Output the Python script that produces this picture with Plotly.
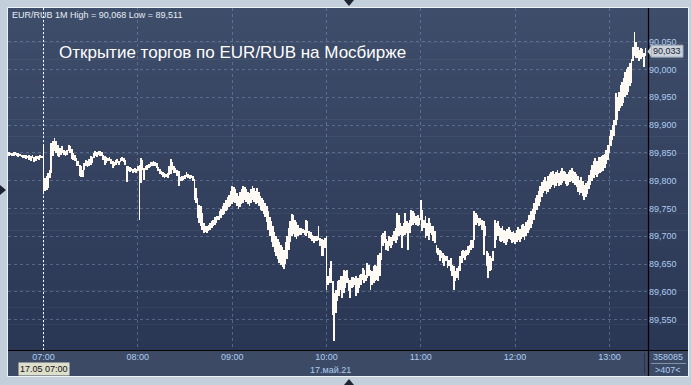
import pandas as pd
import plotly.graph_objects as go

# ---------------- data (1-minute bars, EUR/RUB, 17.05.2021) ----------------
# prices stored as thousandths above 89.000  (e.g. 845 -> 89.845)
BASE = 89.0
first_bar = "2021-05-17 06:38"

low_0638 = [845,846,844,845,846,845,843,844,842,840,841,839,840,838,836,840,834,835,839,838,841,840]
high_0638 = [851,850,849,851,852,850,849,848,847,846,847,846,845,846,845,846,843,844,845,844,846,845]

low_07 = [778,781,784,787,805,814,844,853,850,844, 842,847,850,846,844,847,853,850,839,838,
          835,826,826,808,806,806,820,826,824,827, 829,832,841,844,843,847,845,844,838,829,
          832,835,835,830,823,826,829,832,829,833, 835,833,829,797,817,815,817,814,815,814]
high_07 = [866,805,808,814,820,868,871,876,871,865, 859,859,863,856,854,856,865,862,857,850,
           847,841,835,829,826,820,832,838,835,839, 844,843,850,853,851,854,853,851,847,844,
           843,841,842,839,835,833,838,839,836,841, 842,841,838,826,826,824,823,821,823,821]

low_08 = [817,730,796,820,802,820,820,823,824,826, 827,826,823,817,812,811,807,805,806,805,
          811,812,820,814,814,808,790,799,800,802, 803,806,805,803,805,800,766,760,733,724,
          719,712,706,707,706,710,712,715,719,721, 724,730,730,733,738,740,745,748,752,755]
high_08 = [826,829,841,838,823,826,829,830,833,833, 835,834,832,824,821,818,815,814,812,814,
           826,839,833,826,823,820,817,806,808,809, 811,815,812,810,811,808,803,787,769,757,
           754,742,724,719,718,721,724,727,730,735, 737,736,745,750,755,760,765,770,775,782]

low_09 = [758,762,760,755,750,752,758,760,765,762, 758,755,760,765,762,758,760,755,748,745,
          740,735,725,712,700,690,680,672,665,660, 652,648,645,642,650,660,675,690,700,705,
          698,695,700,703,703,706,703,700,706,697, 695,691,688,691,691,694,682,664,664,679]
high_09 = [790,788,785,778,772,780,785,790,788,785, 780,778,785,790,786,782,787,780,772,768,
           765,760,755,745,735,728,718,708,700,695, 690,685,680,675,690,700,715,728,740,738,
           730,725,720,715,715,713,712,729,727,709, 707,703,700,701,700,719,697,695,694,697]

low_10 = [604,613,616,616,559,511,562,583,592,604, 589,598,607,616,601,589,607,609,613,592,
          598,607,613,622,616,619,625,628,604,613, 616,619,622,619,628,658,682,688,676,673,
          682,679,685,691,688,694,700,703,679,700, 703,706,676,706,718,721,724,721,718,721]
high_10 = [701,628,643,655,619,598,604,619,622,629, 628,640,637,639,625,622,627,627,625,628,
           625,631,633,643,640,631,652,649,640,637, 646,649,646,667,670,703,706,709,695,691,
           700,699,703,709,715,742,739,724,718,724, 742,727,724,730,748,745,742,736,739,733]

low_11 = [730,709,715,697,700,694,706,703,691,688, 670,667,655,661,652,646,655,643,646,637,
          628,604,619,625,622,637,652,661,658,664, 667,670,676,679,694,721,724,718,721,712,
          667,700,646,625,637,640,655,679,694,700, 691,690,692,688,685,690,695,693,688,690]
high_11 = [766,748,730,736,724,733,724,718,718,709, 685,679,676,673,670,667,665,664,658,661,
           649,646,637,643,646,664,673,676,673,676, 682,685,694,694,745,742,739,733,733,730,
           727,718,673,670,664,661,673,730,724,727, 718,715,718,712,710,713,716,712,708,710]

low_12 = [686,690,694,690,695,698,694,700,706,712, 715,722,730,740,748,755,762,770,778,782,
          776,780,785,788,792,786,790,795,790,792, 796,800,794,790,793,797,800,795,792,788,
          780,775,778,772,766,770,776,785,792,800, 805,810,806,812,814,816,818,822,830,838]
high_12 = [706,712,716,714,720,722,718,726,730,738, 745,750,760,768,775,782,790,798,802,806,
           800,808,812,815,818,812,815,820,814,818, 822,818,815,812,816,820,822,818,815,812,
           808,802,806,800,792,795,800,810,820,828, 835,840,836,842,843,845,846,848,856,865]

low_13 = [850,862,874,880,900,910,925,930,935,940, 950,955,960,970,975,1015,1025,1020,1020,1015,
          1018,1022,1005,1025]
high_13 = [880,892,900,910,958,950,960,972,978,985, 995,1000,1005,1012,1018,1040,1068,1050,1040,1035,
           1038,1036,1030,1038]

last_price = 90.033
y_ticks = [89.55, 89.60, 89.65, 89.70, 89.75, 89.80, 89.85, 89.90, 89.95, 90.00, 90.05]
x_ticks = ["07:00", "08:00", "09:00", "10:00", "11:00", "12:00", "13:00"]
day = "2021-05-17"

# ---------------- assemble ----------------
lows_raw = low_0638 + low_07 + low_08 + low_09 + low_10 + low_11 + low_12 + low_13
highs_raw = high_0638 + high_07 + high_08 + high_09 + high_10 + high_11 + high_12 + high_13
lows = [BASE + v / 1000 for v in lows_raw]
highs = [BASE + v / 1000 for v in highs_raw]
times = pd.date_range(first_bar, periods=len(lows), freq="1min")

# ---------------- geometry helpers (pixel -> paper) ----------------
W, H = 691, 385
PL, PR, PT, PB = 8, 648, 8, 350
def px(x):
    return (x - PL) / (PR - PL)
def py(y):
    return (PB - y) / (PB - PT)

FONT = "Liberation Sans, Arial, sans-serif"
LABEL = "#aecdf2"
GRID = "rgba(125,145,180,0.5)"

fig = go.Figure()
fig.add_trace(go.Bar(
    x=times, y=[h - l for h, l in zip(highs, lows)], base=lows,
    width=30000, marker=dict(color="#fffaf3", line=dict(width=0)),
    hoverinfo="skip", showlegend=False,
))

shapes = []
# frame light border
shapes.append(dict(type="rect", xref="paper", yref="paper", x0=px(7.5), x1=px(688.5), y0=py(376.5), y1=py(7.5),
                   line=dict(color="#eef3f8", width=1), fillcolor="rgba(0,0,0,0)", layer="below"))
# gradient background of plot + right panel
top_c = (62, 77, 106)
bot_c = (42, 55, 84)
N = 40
for i in range(N):
    t = i / (N - 1)
    c = tuple(round(top_c[k] + (bot_c[k] - top_c[k]) * t) for k in range(3))
    ya = PT + (PB - PT) * i / N
    yb = PT + (PB - PT) * (i + 1) / N
    shapes.append(dict(type="rect", xref="paper", yref="paper", x0=px(8), x1=px(688),
                       y0=py(yb + 0.5), y1=py(ya), line=dict(width=0),
                       fillcolor="rgb(%d,%d,%d)" % c, layer="below"))
# bottom time panel
shapes.append(dict(type="rect", xref="paper", yref="paper", x0=px(8), x1=px(688), y0=py(376), y1=py(350),
                   line=dict(width=0), fillcolor="#3c4a65", layer="below"))
# black separators
shapes.append(dict(type="line", xref="paper", yref="paper", x0=px(648.5), x1=px(648.5), y0=py(376), y1=py(8),
                   line=dict(color="#000000", width=1.2), layer="above"))
shapes.append(dict(type="line", xref="paper", yref="paper", x0=px(8), x1=px(688), y0=py(350.5), y1=py(350.5),
                   line=dict(color="#000000", width=1.2), layer="above"))
shapes.append(dict(type="line", xref="paper", yref="paper", x0=px(644.5), x1=px(644.5), y0=py(374), y1=py(353),
                   line=dict(color="#27314a", width=1), layer="above"))
shapes.append(dict(type="line", xref="paper", yref="paper", x0=px(651), x1=px(686), y0=py(363.5), y1=py(363.5),
                   line=dict(color="#8192ac", width=1), layer="above"))
# cursor line at 07:00
shapes.append(dict(type="line", xref="x", yref="paper", x0=f"{day} 07:00", x1=f"{day} 07:00", y0=0, y1=1,
                   line=dict(color="#ffffff", width=1, dash="2px,2px"), layer="above"))
# last price marker
shapes.append(dict(type="rect", xref="paper", yref="y", x0=px(651), x1=px(683),
                   y0=last_price - 6 / 556, y1=last_price + 6 / 556,
                   line=dict(color="#9aa6b4", width=1), fillcolor="#c9d1da", layer="above"))
shapes.append(dict(type="path", xref="paper", yref="paper",
                   path=f"M {px(651)} {py(46.5)} L {px(647.5)} {py(51.5)} L {px(651)} {py(56.5)} Z",
                   line=dict(width=0), fillcolor="#c9d1da", layer="above"))
# small pointer triangles on the frame
shapes.append(dict(type="path", xref="paper", yref="paper",
                   path=f"M {px(344)} {py(0)} L {px(354)} {py(0)} L {px(349)} {py(6)} Z",
                   line=dict(width=0), fillcolor="#1e2530", layer="above"))
shapes.append(dict(type="path", xref="paper", yref="paper",
                   path=f"M {px(344)} {py(385)} L {px(354)} {py(385)} L {px(349)} {py(379)} Z",
                   line=dict(width=0), fillcolor="#1e2530", layer="above"))
shapes.append(dict(type="path", xref="paper", yref="paper",
                   path=f"M {px(0)} {py(185)} L {px(0)} {py(195)} L {px(6)} {py(190)} Z",
                   line=dict(width=0), fillcolor="#1e2530", layer="above"))

annotations = [
    dict(text="EUR/RUB 1M High = 90,068 Low = 89,511", x=px(10), y=py(15), xanchor="left", yanchor="middle",
         font=dict(family=FONT, size=9, color="#e6edf5")),
    dict(text="Открытие торгов по EUR/RUB на Мосбирже", x=px(57), y=py(52), xanchor="left", yanchor="middle",
         font=dict(family=FONT, size=17, color="#ffffff")),
    dict(text="17.05 07:00", x=px(43.5), y=py(369), xanchor="center", yanchor="middle",
         font=dict(family=FONT, size=9, color="#111111"), bgcolor="#dedfcb", borderpad=1),
    dict(text="17.май.21", x=px(330), y=py(370), xanchor="center", yanchor="middle",
         font=dict(family=FONT, size=9, color=LABEL)),
    dict(text="358085", x=px(668), y=py(356.5), xanchor="center", yanchor="middle",
         font=dict(family=FONT, size=9, color=LABEL)),
    dict(text="&gt;407&lt;", x=px(668), y=py(370), xanchor="center", yanchor="middle",
         font=dict(family=FONT, size=9, color=LABEL)),
    dict(text=f"{last_price:.3f}".replace(".", ","), x=px(667), y=last_price, yref="y", xanchor="center",
         yanchor="middle", font=dict(family=FONT, size=9, color="#1b2536")),
]
for a in annotations:
    a.setdefault("xref", "paper")
    a.setdefault("yref", "paper")
    a["showarrow"] = False

fig.update_layout(
    width=W, height=H,
    margin=dict(l=PL, r=W - PR, t=PT, b=H - PB, pad=0),
    paper_bgcolor="#c3cfdb",
    plot_bgcolor="rgba(0,0,0,0)",
    separators=", ",
    showlegend=False,
    shapes=shapes,
    annotations=annotations,
    bargap=0,
    xaxis=dict(
        type="date",
        range=[f"{day} 06:37:25", f"{day} 13:24:32"],
        tickvals=[f"{day} {t}" for t in x_ticks],
        ticktext=x_ticks,
        showgrid=True, gridcolor=GRID, griddash="3px,3px", gridwidth=1,
        ticks="", showline=False, zeroline=False,
        tickfont=dict(family=FONT, size=9, color=LABEL),
        fixedrange=True,
    ),
    yaxis=dict(
        side="right",
        range=[89.4955, 90.1106],
        tickvals=y_ticks,
        tickformat=".3f",
        showgrid=True, gridcolor=GRID, griddash="3px,3px", gridwidth=1,
        ticks="", showline=False, zeroline=False,
        tickfont=dict(family=FONT, size=9, color=LABEL),
        fixedrange=True,
    ),
)

fig.write_html("out.html", config={"displayModeBar": False, "responsive": False},
               post_script="document.body.style.margin='0';document.body.style.overflow='hidden';")
